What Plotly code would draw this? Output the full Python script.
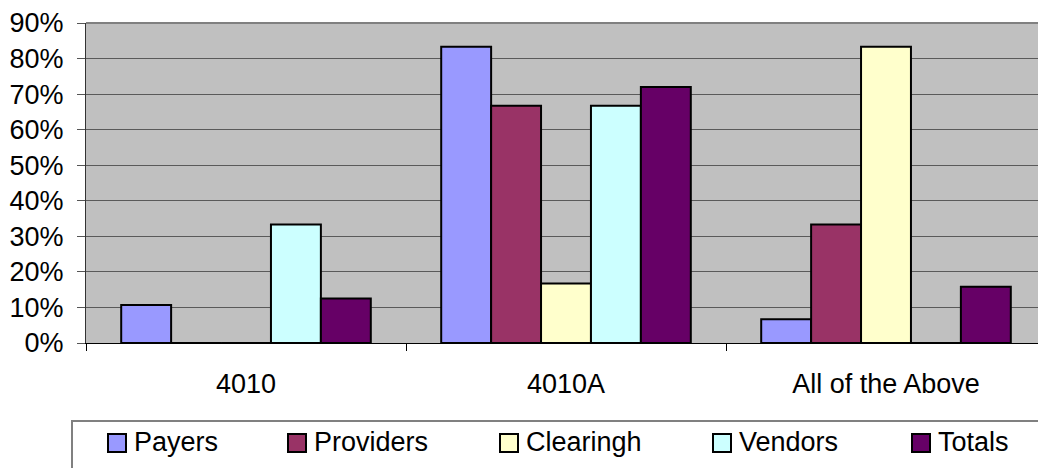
import plotly.graph_objects as go

categories = ["4010", "4010A", "All of the Above"]
series_names = ["Payers", "Providers", "Clearingh", "Vendors", "Totals"]
payers = [0.107, 0.833, 0.067]
providers = [0.0, 0.667, 0.333]
clearingh = [0.0, 0.167, 0.833]
vendors = [0.333, 0.667, 0.0]
totals = [0.125, 0.72, 0.158]
colors = ["#9999FF", "#993366", "#FFFFCC", "#CCFFFF", "#660066"]

font = "Liberation Sans, Arial, sans-serif"
W, H = 1038, 468
L, T, B = 86, 23, 125
PW, PH = W - L, H - T - B


def px(x):
    # pixel x -> paper x
    return (x - L) / PW


def py(y):
    # pixel y -> paper y
    return (H - B - y) / PH


fig = go.Figure()
for name, vals, col in zip(series_names, [payers, providers, clearingh, vendors, totals], colors):
    fig.add_trace(go.Bar(x=categories, y=vals, name=name, showlegend=False,
                         marker=dict(color=col, line=dict(color="black", width=2))))

fig.update_layout(
    width=W, height=H,
    margin=dict(l=L, r=0, t=T, b=B),
    barmode="group", bargap=0.22, bargroupgap=0,
    paper_bgcolor="white", plot_bgcolor="#C0C0C0",
    font=dict(family=font, size=27, color="black"),
)

# plot area runs past the right edge of the picture, as in the original
fig.update_xaxes(type="category", range=[-0.5, 2.475],
                 showline=True, linecolor="black", linewidth=1,
                 ticks="outside", tickson="boundaries", ticklen=7, tickcolor="black",
                 tickfont=dict(size=27), ticklabelstandoff=17,
                 showgrid=False, zeroline=False)
fig.update_yaxes(range=[0, 0.9], dtick=0.1, tickformat=".0%",
                 showline=True, linecolor="#333333", linewidth=1,
                 ticks="outside", ticklen=8, tickcolor="#555555",
                 tickfont=dict(size=27), ticklabelstandoff=8,
                 showgrid=True, gridcolor="#5a5a5a", gridwidth=1, zeroline=False)

# top border of the plot area
fig.add_shape(type="line", xref="paper", yref="paper", x0=0, x1=1, y0=1, y1=1,
              line=dict(color="#808080", width=2))
# legend frame, running off the right and bottom edges
fig.add_shape(type="rect", xref="paper", yref="paper", x0=px(72), x1=px(1070),
              y0=py(500), y1=py(421), line=dict(color="#808080", width=2))

# legend entries
legend_x = [108, 288, 500, 713, 912]
for name, col, lx in zip(series_names, colors, legend_x):
    fig.add_shape(type="rect", xref="paper", yref="paper",
                  x0=px(lx), x1=px(lx + 18), y0=py(452), y1=py(434),
                  fillcolor=col, line=dict(color="black", width=2))
    fig.add_annotation(text=name, xref="paper", yref="paper",
                       x=px(lx + 24), y=py(442), xanchor="left", yanchor="middle",
                       showarrow=False, font=dict(size=27))

fig.write_html("out.html", config={"displayModeBar": False},
               post_script="document.body.style.margin = '0';")
